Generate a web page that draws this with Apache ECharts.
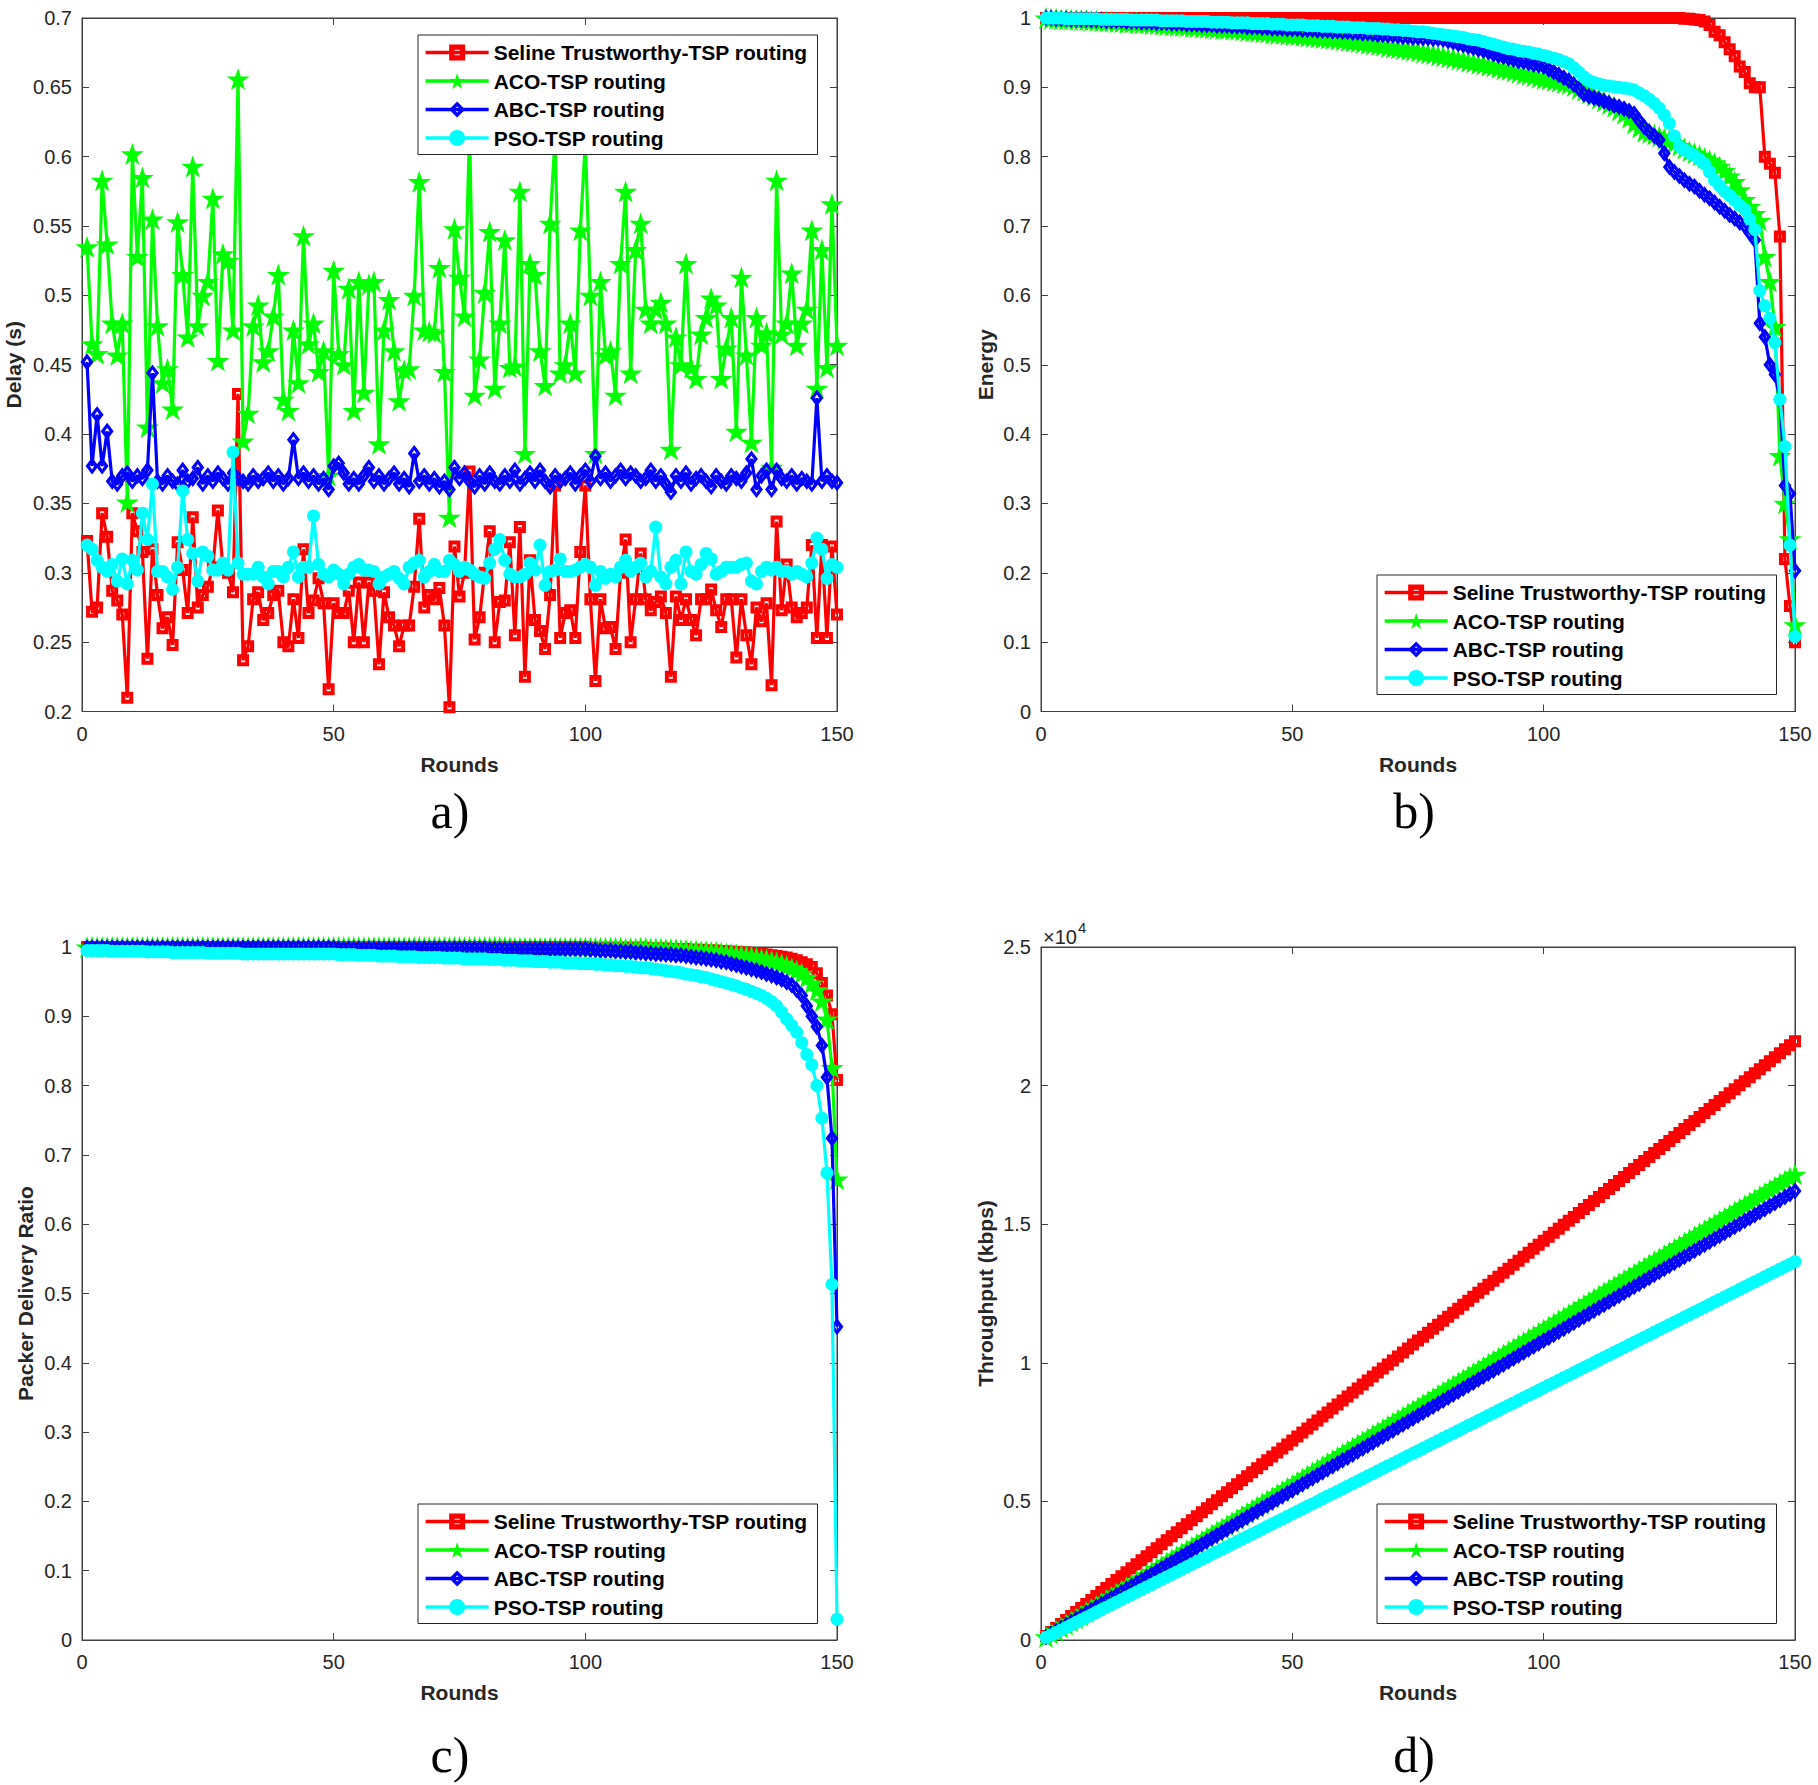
<!DOCTYPE html>
<html><head><meta charset="utf-8">
<script src="https://cdn.jsdelivr.net/npm/echarts/dist/echarts.min.js"></script>
<style>html,body{margin:0;padding:0;background:#fff}#c{width:1818px;height:1785px}</style>
</head><body><div id="c"></div><script>
const seriesNames = ['Seline Trustworthy-TSP routing','ACO-TSP routing','ABC-TSP routing','PSO-TSP routing'];
const rounds = Array.from({length: 150}, (_, i) => i + 1);
const xTickLabels = ['0','50','100','150'];
const panelLabels = ['a)','b)','c)','d)'];

// ---- a) Delay (s)
const delaySeline = [0.323,0.272,0.275,0.343,0.326,0.287,0.280,0.270,0.210,0.343,
0.330,0.315,0.238,0.317,0.284,0.260,0.268,0.248,0.322,0.302,
0.271,0.340,0.275,0.284,0.290,0.304,0.345,0.304,0.300,0.286,
0.429,0.237,0.247,0.281,0.286,0.266,0.271,0.284,0.287,0.250,
0.247,0.281,0.253,0.317,0.271,0.280,0.296,0.278,0.216,0.278,
0.271,0.271,0.287,0.250,0.293,0.250,0.293,0.287,0.234,0.286,
0.268,0.262,0.247,0.262,0.262,0.290,0.339,0.275,0.284,0.281,
0.289,0.262,0.203,0.319,0.283,0.300,0.373,0.252,0.268,0.300,
0.330,0.250,0.279,0.280,0.322,0.255,0.333,0.225,0.309,0.266,
0.258,0.245,0.284,0.363,0.253,0.271,0.273,0.253,0.315,0.363,
0.281,0.222,0.281,0.260,0.261,0.245,0.300,0.324,0.250,0.281,
0.314,0.281,0.273,0.279,0.283,0.271,0.225,0.283,0.266,0.281,
0.266,0.255,0.281,0.281,0.288,0.273,0.261,0.281,0.281,0.239,
0.281,0.255,0.234,0.275,0.265,0.278,0.219,0.337,0.273,0.306,
0.275,0.268,0.271,0.275,0.320,0.253,0.320,0.253,0.319,0.270];
const delayACO = [0.535,0.465,0.458,0.583,0.537,0.480,0.457,0.480,0.351,0.602,
0.528,0.585,0.405,0.555,0.478,0.437,0.447,0.418,0.553,0.515,
0.470,0.593,0.478,0.500,0.510,0.570,0.453,0.530,0.525,0.475,
0.656,0.395,0.415,0.478,0.493,0.452,0.460,0.485,0.515,0.425,
0.417,0.475,0.437,0.543,0.465,0.480,0.445,0.460,0.370,0.518,
0.458,0.450,0.505,0.417,0.510,0.430,0.508,0.510,0.393,0.475,
0.497,0.460,0.424,0.446,0.447,0.500,0.582,0.475,0.474,0.473,
0.520,0.445,0.340,0.548,0.513,0.485,0.620,0.428,0.454,0.502,
0.546,0.433,0.480,0.540,0.448,0.449,0.575,0.386,0.523,0.515,
0.460,0.435,0.552,0.615,0.444,0.450,0.480,0.444,0.547,0.610,
0.500,0.386,0.510,0.457,0.460,0.428,0.523,0.575,0.444,0.533,
0.552,0.490,0.480,0.490,0.495,0.480,0.389,0.470,0.450,0.523,
0.448,0.440,0.472,0.484,0.498,0.493,0.440,0.462,0.484,0.402,
0.513,0.457,0.394,0.484,0.464,0.473,0.376,0.583,0.472,0.480,
0.516,0.464,0.480,0.490,0.547,0.433,0.533,0.448,0.566,0.464];
const delayABC = [0.452,0.377,0.414,0.377,0.402,0.366,0.364,0.370,0.372,0.366,
0.370,0.368,0.374,0.444,0.366,0.364,0.370,0.366,0.364,0.374,
0.366,0.368,0.376,0.364,0.370,0.366,0.372,0.368,0.364,0.372,
0.368,0.366,0.364,0.370,0.366,0.368,0.372,0.366,0.370,0.364,
0.368,0.396,0.368,0.372,0.366,0.370,0.364,0.368,0.360,0.377,
0.379,0.372,0.364,0.368,0.364,0.370,0.376,0.366,0.370,0.364,
0.368,0.372,0.364,0.368,0.362,0.386,0.366,0.370,0.364,0.368,
0.362,0.366,0.360,0.376,0.368,0.372,0.366,0.362,0.370,0.364,
0.372,0.366,0.364,0.370,0.366,0.374,0.364,0.368,0.372,0.366,
0.374,0.366,0.362,0.370,0.366,0.368,0.372,0.364,0.370,0.374,
0.366,0.384,0.368,0.372,0.366,0.370,0.374,0.368,0.372,0.370,
0.366,0.368,0.374,0.366,0.370,0.364,0.358,0.370,0.366,0.372,
0.364,0.368,0.370,0.366,0.362,0.370,0.366,0.364,0.370,0.368,
0.366,0.372,0.382,0.360,0.370,0.374,0.360,0.374,0.368,0.366,
0.370,0.364,0.368,0.366,0.364,0.426,0.366,0.370,0.366,0.365];
const delayPSO = [0.320,0.317,0.309,0.304,0.301,0.306,0.294,0.310,0.292,0.309,
0.302,0.343,0.324,0.364,0.301,0.301,0.297,0.288,0.304,0.359,
0.324,0.314,0.294,0.315,0.312,0.302,0.302,0.307,0.302,0.387,
0.307,0.299,0.299,0.299,0.304,0.297,0.292,0.301,0.301,0.297,
0.304,0.315,0.297,0.304,0.304,0.341,0.306,0.299,0.297,0.302,
0.299,0.292,0.299,0.304,0.306,0.302,0.302,0.301,0.292,0.297,
0.299,0.301,0.296,0.292,0.304,0.307,0.309,0.297,0.301,0.306,
0.301,0.301,0.309,0.306,0.301,0.304,0.302,0.299,0.297,0.296,
0.307,0.317,0.324,0.309,0.299,0.297,0.297,0.299,0.307,0.302,
0.320,0.291,0.301,0.302,0.310,0.301,0.301,0.302,0.304,0.306,
0.304,0.291,0.301,0.296,0.299,0.297,0.304,0.309,0.301,0.304,
0.307,0.297,0.301,0.333,0.297,0.292,0.304,0.309,0.292,0.315,
0.301,0.299,0.306,0.314,0.310,0.299,0.301,0.304,0.304,0.304,
0.306,0.307,0.294,0.292,0.301,0.304,0.302,0.304,0.301,0.301,
0.299,0.301,0.299,0.297,0.307,0.325,0.317,0.296,0.306,0.304];

// ---- b) Energy
const energySeline = [1,1,1,1,1,1,1,1,1,1, 1,1,1,1,1,1,1,1,1,1, 1,1,1,1,1,1,1,1,1,1,
1,1,1,1,1,1,1,1,1,1, 1,1,1,1,1,1,1,1,1,1, 1,1,1,1,1,1,1,1,1,1,
1,1,1,1,1,1,1,1,1,1, 1,1,1,1,1,1,1,1,1,1, 1,1,1,1,1,1,1,1,1,1,
1,1,1,1,1,1,1,1,1,1, 1,1,1,1,1,1,1,1,1,1, 1,1,1,1,1,1,1,1,1,1,
1,1,1,1,1,1,1,0.999,0.999,0.998,
0.997,0.995,0.990,0.980,0.975,0.965,0.955,0.945,0.930,0.922,
0.906,0.900,0.900,0.800,0.790,0.777,0.685,0.220,0.152,0.100];
const energyACO = [1.000,0.999,0.999,0.998,0.998,0.998,0.997,0.997,0.997,0.996,
0.996,0.995,0.995,0.995,0.994,0.994,0.993,0.993,0.993,0.992,
0.992,0.991,0.991,0.990,0.990,0.989,0.989,0.988,0.988,0.987,
0.987,0.986,0.986,0.985,0.985,0.984,0.984,0.983,0.983,0.982,
0.981,0.981,0.980,0.979,0.979,0.978,0.977,0.977,0.976,0.975,
0.975,0.974,0.973,0.973,0.972,0.971,0.970,0.970,0.969,0.968,
0.967,0.966,0.965,0.964,0.963,0.962,0.961,0.960,0.958,0.957,
0.956,0.955,0.954,0.953,0.952,0.950,0.949,0.948,0.946,0.945,
0.943,0.942,0.940,0.939,0.937,0.936,0.934,0.933,0.931,0.930,
0.928,0.926,0.925,0.923,0.921,0.919,0.918,0.916,0.914,0.912,
0.911,0.909,0.908,0.906,0.905,0.902,0.898,0.895,0.891,0.888,
0.884,0.880,0.876,0.872,0.867,0.862,0.856,0.848,0.842,0.836,
0.834,0.832,0.829,0.826,0.824,0.820,0.816,0.812,0.808,0.805,
0.802,0.798,0.795,0.791,0.786,0.780,0.772,0.764,0.752,0.738,
0.728,0.718,0.708,0.656,0.620,0.555,0.369,0.300,0.249,0.125];
const energyABC = [1.000,1.000,0.999,0.999,0.999,0.998,0.998,0.998,0.998,0.997,
0.997,0.997,0.996,0.996,0.996,0.996,0.995,0.995,0.995,0.994,
0.994,0.994,0.993,0.993,0.993,0.992,0.992,0.992,0.991,0.991,
0.991,0.990,0.990,0.990,0.989,0.989,0.989,0.988,0.988,0.988,
0.987,0.987,0.987,0.986,0.986,0.985,0.985,0.985,0.984,0.984,
0.984,0.983,0.983,0.983,0.982,0.982,0.982,0.981,0.981,0.980,
0.980,0.979,0.979,0.978,0.978,0.977,0.976,0.976,0.975,0.975,
0.974,0.973,0.973,0.972,0.972,0.971,0.971,0.970,0.970,0.969,
0.967,0.965,0.963,0.961,0.959,0.957,0.955,0.953,0.951,0.948,
0.946,0.944,0.942,0.940,0.938,0.937,0.935,0.933,0.932,0.930,
0.926,0.922,0.918,0.914,0.910,0.904,0.898,0.890,0.887,0.885,
0.883,0.880,0.877,0.874,0.872,0.869,0.866,0.862,0.852,0.843,
0.836,0.830,0.824,0.805,0.785,0.778,0.772,0.766,0.761,0.757,
0.751,0.745,0.740,0.734,0.728,0.722,0.716,0.711,0.705,0.700,
0.690,0.680,0.560,0.540,0.500,0.486,0.450,0.326,0.314,0.203];
const energyPSO = [1.000,1.000,1.000,1.000,0.999,0.999,0.999,0.999,0.999,0.999,
0.999,0.998,0.998,0.998,0.998,0.998,0.998,0.997,0.997,0.997,
0.997,0.997,0.997,0.996,0.996,0.996,0.996,0.996,0.995,0.995,
0.995,0.995,0.995,0.994,0.994,0.994,0.994,0.993,0.993,0.993,
0.993,0.992,0.992,0.992,0.992,0.991,0.991,0.991,0.990,0.990,
0.990,0.990,0.989,0.989,0.989,0.988,0.988,0.988,0.987,0.987,
0.987,0.986,0.986,0.986,0.985,0.985,0.985,0.984,0.984,0.983,
0.983,0.982,0.982,0.981,0.980,0.980,0.979,0.978,0.977,0.976,
0.975,0.974,0.973,0.972,0.970,0.969,0.968,0.966,0.964,0.962,
0.960,0.958,0.956,0.955,0.953,0.952,0.951,0.949,0.948,0.946,
0.944,0.942,0.940,0.937,0.934,0.928,0.922,0.915,0.910,0.907,
0.905,0.903,0.902,0.901,0.900,0.899,0.898,0.896,0.892,0.888,
0.883,0.877,0.870,0.860,0.848,0.830,0.815,0.810,0.806,0.802,
0.796,0.790,0.778,0.766,0.758,0.750,0.744,0.737,0.730,0.724,
0.710,0.695,0.607,0.585,0.567,0.532,0.450,0.382,0.240,0.108];

// ---- c) Packet delivery ratio
const pdrSeline = [1,1,1,1,1,1,1,1,1,1, 1,1,1,1,1,1,1,1,1,1, 1,1,1,1,1,1,1,1,1,1,
1,1,1,1,1,1,1,1,1,1, 1,1,1,1,1,1,1,1,1,1, 1,1,1,1,1,1,1,1,1,1,
1,1,1,1,1,1,1,1,1,1, 1,1,1,1,1,1,1,1,1,1, 1,1,1,1,1,1,1,1,1,1,
1,1,1,1,1,1,1,1,1,1,
0.999,0.999,0.999,0.999,0.999,0.999,0.999,0.999,0.999,0.999,
0.999,0.999,0.998,0.998,0.998,0.998,0.997,0.997,0.997,0.997,
0.996,0.996,0.996,0.995,0.995,0.995,0.994,0.994,0.993,0.993,
0.992,0.992,0.991,0.990,0.990,0.989,0.988,0.987,0.986,0.985,
0.983,0.981,0.978,0.975,0.971,0.962,0.948,0.930,0.903,0.808];
const pdrACO = [1,1,1,1,1,1,1,1,1,1, 1,1,1,1,1,1,1,1,1,1, 1,1,1,1,1,1,1,1,1,1,
1,1,1,1,1,1,1,1,1,1, 1,1,1,1,1,1,1,1,1,1, 1,1,1,1,1,1,1,1,1,1,
1,1,1,1,1,1,1,1,1,1, 1,1,1,1,1,1,1,1,1,1,
1,1,1,1,1,0.999,0.999,0.999,0.999,0.999,
0.999,0.999,0.999,0.999,0.999,0.999,0.999,0.999,0.999,0.999,
0.999,0.999,0.999,0.999,0.999,0.999,0.999,0.998,0.998,0.998,
0.999,0.999,0.998,0.998,0.998,0.997,0.997,0.997,0.996,0.996,
0.995,0.995,0.994,0.994,0.993,0.993,0.992,0.991,0.990,0.989,
0.988,0.987,0.986,0.985,0.983,0.982,0.980,0.978,0.976,0.973,
0.970,0.966,0.962,0.956,0.948,0.938,0.922,0.896,0.826,0.665];
const pdrABC = [0.999,0.999,0.999,0.999,0.999,0.999,0.999,0.999,0.999,0.999,
0.999,0.999,0.999,0.999,0.999,0.999,0.999,0.999,0.999,0.999,
0.999,0.999,0.999,0.999,0.999,0.999,0.999,0.999,0.999,0.999,
0.999,0.999,0.999,0.999,0.999,0.999,0.999,0.999,0.999,0.999,
0.999,0.999,0.999,0.999,0.999,0.999,0.999,0.999,0.999,0.999,
0.998,0.998,0.998,0.998,0.998,0.998,0.998,0.998,0.998,0.998,
0.998,0.998,0.998,0.998,0.998,0.998,0.998,0.998,0.998,0.998,
0.998,0.998,0.998,0.998,0.998,0.998,0.998,0.998,0.998,0.998,
0.997,0.997,0.997,0.997,0.997,0.997,0.997,0.997,0.997,0.997,
0.997,0.997,0.997,0.997,0.997,0.997,0.997,0.997,0.997,0.997,
0.996,0.996,0.995,0.995,0.995,0.994,0.994,0.993,0.993,0.992,
0.992,0.991,0.991,0.990,0.990,0.989,0.989,0.988,0.988,0.987,
0.986,0.985,0.984,0.983,0.982,0.981,0.979,0.978,0.976,0.974,
0.972,0.970,0.968,0.966,0.964,0.961,0.959,0.956,0.953,0.949,
0.945,0.938,0.930,0.915,0.900,0.885,0.858,0.812,0.724,0.452];
const pdrPSO = [0.995,0.995,0.995,0.995,0.995,0.994,0.994,0.994,0.994,0.994,
0.994,0.994,0.993,0.993,0.993,0.993,0.993,0.992,0.992,0.992,
0.992,0.992,0.992,0.992,0.991,0.991,0.991,0.991,0.991,0.991,
0.991,0.990,0.990,0.990,0.990,0.990,0.990,0.990,0.990,0.990,
0.990,0.990,0.990,0.990,0.990,0.990,0.990,0.990,0.990,0.990,
0.989,0.989,0.989,0.989,0.988,0.988,0.988,0.988,0.987,0.987,
0.987,0.987,0.986,0.986,0.986,0.986,0.985,0.985,0.985,0.985,
0.985,0.984,0.984,0.984,0.984,0.983,0.983,0.983,0.983,0.983,
0.982,0.982,0.982,0.981,0.981,0.981,0.980,0.980,0.980,0.979,
0.979,0.979,0.978,0.978,0.978,0.977,0.977,0.977,0.976,0.976,
0.976,0.975,0.975,0.974,0.974,0.973,0.973,0.972,0.972,0.971,
0.970,0.970,0.969,0.968,0.967,0.966,0.965,0.964,0.963,0.961,
0.960,0.959,0.957,0.956,0.954,0.952,0.950,0.948,0.946,0.944,
0.941,0.939,0.936,0.933,0.930,0.926,0.921,0.915,0.906,0.896,
0.887,0.877,0.862,0.845,0.830,0.800,0.753,0.674,0.513,0.030];

// ---- d) Throughput (kbps)
const thrSeline = [144,288,432,576,720,864,1008,1152,1296,1440,
1584,1728,1872,2016,2160,2304,2448,2592,2736,2880,
3024,3168,3312,3456,3600,3744,3888,4032,4176,4320,
4464,4608,4752,4896,5040,5184,5328,5472,5616,5760,
5904,6048,6192,6336,6480,6624,6768,6912,7056,7200,
7344,7488,7632,7776,7920,8064,8208,8352,8496,8640,
8784,8928,9072,9216,9360,9504,9648,9792,9936,10080,
10224,10368,10512,10656,10800,10944,11088,11232,11376,11520,
11664,11808,11952,12096,12240,12384,12528,12672,12816,12960,
13104,13248,13392,13536,13680,13824,13968,14112,14256,14400,
14544,14688,14832,14976,15120,15264,15408,15552,15696,15840,
15984,16128,16272,16416,16560,16704,16848,16992,17136,17280,
17424,17568,17712,17856,18000,18144,18288,18432,18576,18720,
18864,19008,19152,19296,19440,19584,19728,19872,20016,20160,
20304,20448,20592,20736,20880,21024,21168,21312,21456,21600];
const thrACO = [112,224,336,448,560,672,784,896,1008,1120,
1232,1344,1456,1568,1680,1792,1904,2016,2128,2240,
2352,2464,2576,2688,2800,2912,3024,3136,3248,3360,
3472,3584,3696,3808,3920,4032,4144,4256,4368,4480,
4592,4704,4816,4928,5040,5152,5264,5376,5488,5600,
5712,5824,5936,6048,6160,6272,6384,6496,6608,6720,
6832,6944,7056,7168,7280,7392,7504,7616,7728,7840,
7952,8064,8176,8288,8400,8512,8624,8736,8848,8960,
9072,9184,9296,9408,9520,9632,9744,9856,9968,10080,
10192,10304,10416,10528,10640,10752,10864,10976,11088,11200,
11312,11424,11536,11648,11760,11872,11984,12096,12208,12320,
12432,12544,12656,12768,12880,12992,13104,13216,13328,13440,
13552,13664,13776,13888,14000,14112,14224,14336,14448,14560,
14672,14784,14896,15008,15120,15232,15344,15456,15568,15680,
15792,15904,16016,16128,16240,16352,16464,16576,16688,16800];
const thrABC = [108,216,324,432,540,648,756,864,972,1080,
1188,1296,1404,1512,1620,1728,1836,1944,2052,2160,
2268,2376,2484,2592,2700,2808,2916,3024,3132,3240,
3348,3456,3564,3672,3780,3888,3996,4104,4212,4320,
4428,4536,4644,4752,4860,4968,5076,5184,5292,5400,
5508,5616,5724,5832,5940,6048,6156,6264,6372,6480,
6588,6696,6804,6912,7020,7128,7236,7344,7452,7560,
7668,7776,7884,7992,8100,8208,8316,8424,8532,8640,
8748,8856,8964,9072,9180,9288,9396,9504,9612,9720,
9828,9936,10044,10152,10260,10368,10476,10584,10692,10800,
10908,11016,11124,11232,11340,11448,11556,11664,11772,11880,
11988,12096,12204,12312,12420,12528,12636,12744,12852,12960,
13068,13176,13284,13392,13500,13608,13716,13824,13932,14040,
14148,14256,14364,14472,14580,14688,14796,14904,15012,15120,
15228,15336,15444,15552,15660,15768,15876,15984,16092,16200];
const thrPSO = [91,182,273,364,455,546,637,728,819,910,
1001,1092,1183,1274,1365,1456,1547,1638,1729,1820,
1911,2002,2093,2184,2275,2366,2457,2548,2639,2730,
2821,2912,3003,3094,3185,3276,3367,3458,3549,3640,
3731,3822,3913,4004,4095,4186,4277,4368,4459,4550,
4641,4732,4823,4914,5005,5096,5187,5278,5369,5460,
5551,5642,5733,5824,5915,6006,6097,6188,6279,6370,
6461,6552,6643,6734,6825,6916,7007,7098,7189,7280,
7371,7462,7553,7644,7735,7826,7917,8008,8099,8190,
8281,8372,8463,8554,8645,8736,8827,8918,9009,9100,
9191,9282,9373,9464,9555,9646,9737,9828,9919,10010,
10101,10192,10283,10374,10465,10556,10647,10738,10829,10920,
11011,11102,11193,11284,11375,11466,11557,11648,11739,11830,
11921,12012,12103,12194,12285,12376,12467,12558,12649,12740,
12831,12922,13013,13104,13195,13286,13377,13468,13559,13650];

const yTicksDelay = ['0.2','0.25','0.3','0.35','0.4','0.45','0.5','0.55','0.6','0.65','0.7'];
const yTicksThroughput = ['0','0.5','1','1.5','2','2.5'];

// ---- layout / style
const panelData = [
  [delaySeline, delayACO, delayABC, delayPSO],
  [energySeline, energyACO, energyABC, energyPSO],
  [pdrSeline, pdrACO, pdrABC, pdrPSO],
  [thrSeline, thrACO, thrABC, thrPSO]
];
const grids = [
  {left: 82, top: 18, width: 755, height: 693.5},
  {left: 1041, top: 18, width: 754, height: 693.5},
  {left: 82, top: 947, width: 755, height: 693},
  {left: 1041, top: 947, width: 754, height: 693}
];
const yDefs = [
  {min: 0.2, max: 0.7, interval: 0.05, name: 'Delay (s)', gap: 58, fmt: v => yTicksDelay[Math.round((v - 0.2) / 0.05)]},
  {min: 0, max: 1, interval: 0.1, name: 'Energy', gap: 45, fmt: v => String(+v.toFixed(1))},
  {min: 0, max: 1, interval: 0.1, name: 'Packer Delivery Ratio', gap: 46, fmt: v => String(+v.toFixed(1))},
  {min: 0, max: 25000, interval: 5000, name: 'Throughput (kbps)', gap: 45, fmt: v => yTicksThroughput[Math.round(v / 5000)]}
];
const legendPos = [{left: 418, top: 35}, {left: 1377, top: 575}, {left: 418, top: 1504}, {left: 1377, top: 1504}];
const labelPos = [[450, 811], [1414, 811], [450, 1755], [1414, 1755]];
const COLORS = ['#ff0000', '#00ff00', '#0000ff', '#00ffff'];
// ring-shaped marker paths (outer clockwise, inner counter-clockwise -> hollow centre)
const SQUARE_RING = 'path://M0,0 L12,0 L12,12 L0,12 Z M4,4 L4,8 L8,8 L8,4 Z';
const DIAMOND_RING = 'path://M6.5,0 L13,8.5 L6.5,17 L0,8.5 Z M6.5,5 L4.2,8.5 L6.5,12 L8.8,8.5 Z';
const STAR = 'path://M50,0 L61.8,35.1 L98.9,35.1 L68.9,56.9 L80.3,92.1 L50,70.4 L19.7,92.1 L31.1,56.9 L1.1,35.1 L38.2,35.1 Z';
const symbols = [
  {symbol: SQUARE_RING, size: 12},
  {symbol: STAR, size: [23, 22]},
  {symbol: DIAMOND_RING, size: [13, 17]},
  {symbol: 'circle', size: 13}
];
const AX = '#404040', TXT = '#262626';
const FONT = "'Liberation Sans', Arial, Helvetica, sans-serif";

const xAxes = [], yAxes = [], series = [], legends = [], graphics = [];
grids.forEach((g, gi) => {
  const common = {gridIndex: gi, type: 'value', splitLine: {show: false}};
  xAxes.push(Object.assign({}, common, {
    position: 'bottom', min: 0, max: 150, interval: 50,
    name: 'Rounds', nameLocation: 'middle', nameGap: 42,
    nameTextStyle: {fontSize: 21, fontWeight: 'bold', fontFamily: FONT, color: TXT},
    axisLine: {show: true, onZero: false, lineStyle: {color: AX, width: 1}},
    axisTick: {show: true, inside: true, length: 7, lineStyle: {color: AX}},
    axisLabel: {show: true, fontSize: 20, fontFamily: FONT, color: TXT, margin: 12, showMinLabel: true, showMaxLabel: true,
      formatter: v => xTickLabels[Math.round(v / 50)]}
  }));
  const y = yDefs[gi];
  yAxes.push(Object.assign({}, common, {
    position: 'left', min: y.min, max: y.max, interval: y.interval,
    name: y.name, nameLocation: 'middle', nameGap: y.gap, nameRotate: 90,
    nameTextStyle: {fontSize: 21, fontWeight: 'bold', fontFamily: FONT, color: TXT},
    axisLine: {show: true, onZero: false, lineStyle: {color: AX, width: 1}},
    axisTick: {show: true, inside: true, length: 7, lineStyle: {color: AX}},
    axisLabel: {show: true, fontSize: 20, fontFamily: FONT, color: TXT, margin: 10, showMinLabel: true, showMaxLabel: true, formatter: y.fmt}
  }));
});
grids.forEach((g, gi) => {
  const y = yDefs[gi];
  xAxes.push({gridIndex: gi, type: 'value', position: 'top', min: 0, max: 150, interval: 50,
    axisLine: {show: true, onZero: false, lineStyle: {color: AX, width: 1}},
    axisTick: {show: true, inside: true, length: 7, lineStyle: {color: AX}},
    axisLabel: {show: false}, splitLine: {show: false}});
  yAxes.push({gridIndex: gi, type: 'value', position: 'right', min: y.min, max: y.max, interval: y.interval,
    axisLine: {show: true, onZero: false, lineStyle: {color: AX, width: 1}},
    axisTick: {show: true, inside: true, length: 7, lineStyle: {color: AX}},
    axisLabel: {show: false}, splitLine: {show: false}});
});

panelData.forEach((arrs, gi) => {
  arrs.forEach((arr, si) => {
    const s = symbols[si], c = COLORS[si];
    series.push({
      type: 'line', name: seriesNames[si], xAxisIndex: gi, yAxisIndex: gi,
      data: arr.map((v, i) => [rounds[i], v]),
      symbol: s.symbol, symbolSize: s.size, showAllSymbol: true, clip: false,
      lineStyle: {color: c, width: 3.2},
      itemStyle: {color: c, borderWidth: 0},
      emphasis: {disabled: true}, silent: true, animation: false, z: 2 + si
    });
  });
  legends.push(Object.assign({
    orient: 'vertical', selectedMode: false, z: 10,
    itemWidth: 63, itemHeight: 20, itemGap: 7.5, padding: [7, 10, 6, 6],
    borderColor: '#262626', borderWidth: 1, backgroundColor: '#ffffff',
    textStyle: {fontSize: 21, fontWeight: 'bold', fontFamily: FONT, color: '#000'},
    data: seriesNames.map((n, si) => ({
      name: n,
      lineStyle: {color: COLORS[si], width: 3.3},
      itemStyle: {color: COLORS[si], borderWidth: 0}
    }))
  }, legendPos[gi]));
  graphics.push({type: 'text', x: labelPos[gi][0], y: labelPos[gi][1], z: 20,
    style: {text: panelLabels[gi], fontSize: 50, fontFamily: "'Liberation Serif', 'Times New Roman', serif", fill: '#000', align: 'center', verticalAlign: 'middle'}});
});
graphics.push({type: 'text', x: 1043, y: 937, style: {text: '×10', fontSize: 20, fontFamily: FONT, fill: TXT, align: 'left', verticalAlign: 'middle'}});
graphics.push({type: 'text', x: 1078, y: 927, style: {text: '4', fontSize: 15, fontFamily: FONT, fill: TXT, align: 'left', verticalAlign: 'middle'}});

const chart = echarts.init(document.getElementById('c'), null, {renderer: 'svg'});
chart.setOption({
  backgroundColor: '#ffffff',
  animation: false,
  grid: grids.map(g => Object.assign({show: true, borderColor: AX, borderWidth: 1, backgroundColor: 'transparent', containLabel: false, outerBoundsMode: 'none'}, g)),
  xAxis: xAxes, yAxis: yAxes, legend: legends, series: series, graphic: graphics
});
</script></body></html>
